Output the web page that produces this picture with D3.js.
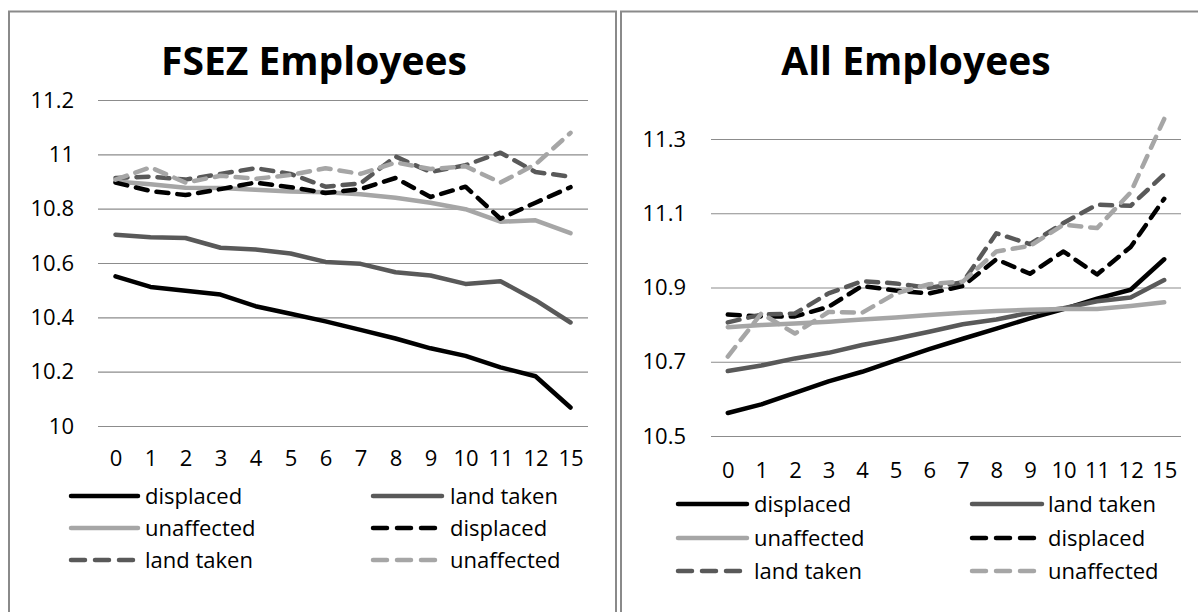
<!DOCTYPE html>
<html>
<head>
<meta charset="utf-8">
<script src="https://cdn.jsdelivr.net/npm/d3@7"></script>
<style>
  body { margin: 0; background: #fff; }
  svg { display: block; font-family: "Open Sans", sans-serif; }
</style>
</head>
<body>
<div id="chart"></div>
<script>
const periods = ["0", "1", "2", "3", "4", "5", "6", "7", "8", "9", "10", "11", "12", "15"];
const seriesNames = ["displaced", "land taken", "unaffected", "displaced", "land taken", "unaffected"];

// FSEZ employees
const fsezDisplaced = [10.551, 10.512, 10.498, 10.484, 10.441, 10.413, 10.385, 10.354, 10.322, 10.286, 10.258, 10.216, 10.183, 10.068];
const fsezLandTaken = [10.704, 10.695, 10.692, 10.656, 10.650, 10.635, 10.604, 10.597, 10.566, 10.554, 10.523, 10.533, 10.463, 10.381];
const fsezUnaffected = [10.900, 10.890, 10.877, 10.876, 10.870, 10.863, 10.860, 10.853, 10.840, 10.822, 10.798, 10.752, 10.757, 10.710];
const fsezDisplacedD = [10.896, 10.865, 10.850, 10.872, 10.896, 10.879, 10.858, 10.872, 10.913, 10.843, 10.881, 10.763, 10.822, 10.879];
const fsezLandTakenD = [10.913, 10.918, 10.907, 10.928, 10.949, 10.928, 10.881, 10.893, 10.992, 10.935, 10.960, 11.006, 10.935, 10.918];
const fsezUnaffectedD = [10.907, 10.952, 10.896, 10.921, 10.910, 10.924, 10.949, 10.928, 10.970, 10.946, 10.956, 10.896, 10.963, 11.079];

// all employees
const allDisplaced = [10.562, 10.585, 10.616, 10.647, 10.673, 10.704, 10.734, 10.762, 10.789, 10.817, 10.842, 10.870, 10.894, 10.976];
const allLandTaken = [10.675, 10.690, 10.709, 10.724, 10.745, 10.762, 10.781, 10.801, 10.814, 10.832, 10.844, 10.863, 10.873, 10.920];
const allUnaffected = [10.793, 10.799, 10.803, 10.808, 10.814, 10.819, 10.826, 10.832, 10.837, 10.840, 10.842, 10.842, 10.850, 10.860];
const allDisplacedD = [10.827, 10.822, 10.822, 10.848, 10.904, 10.892, 10.884, 10.904, 10.976, 10.937, 10.997, 10.935, 11.009, 11.139];
const allLandTakenD = [10.806, 10.827, 10.830, 10.884, 10.917, 10.911, 10.899, 10.914, 11.046, 11.017, 11.074, 11.123, 11.120, 11.205];
const allUnaffectedD = [10.714, 10.830, 10.776, 10.834, 10.832, 10.884, 10.909, 10.916, 10.997, 11.012, 11.069, 11.060, 11.156, 11.354];

const fsezTicks = [10, 10.2, 10.4, 10.6, 10.8, 11, 11.2];
const allTicks = [10.5, 10.7, 10.9, 11.1, 11.3];

const colors = ["#000000", "#595959", "#a6a6a6", "#000000", "#595959", "#a6a6a6"];
const dashed = [false, false, false, true, true, true];
const lineWidth = 4.5;
const dashPattern = "12,9";

const svg = d3.select("#chart")
  .append("svg")
  .attr("width", 1198)
  .attr("height", 612);

function drawPanel(opts) {
  const g = svg.append("g");

  // panel frame
  g.append("rect")
    .attr("x", opts.frame[0])
    .attr("y", 11.5)
    .attr("width", opts.frame[1] - opts.frame[0])
    .attr("height", 640)
    .attr("fill", "none")
    .attr("stroke", "#8a8a8a")
    .attr("stroke-width", 2);

  g.append("text")
    .attr("x", opts.titleX)
    .attr("y", 75)
    .attr("text-anchor", "middle")
    .style("font-size", "39px")
    .style("font-weight", "bold")
    .text(opts.title);

  const x = d3.scalePoint().domain(periods).range(opts.xRange).padding(0.5);
  const y = d3.scaleLinear().domain(opts.yDomain).range(opts.yRange);

  const yAxis = d3.axisLeft(y)
    .tickValues(opts.ticks)
    .tickSize(-(opts.xRange[1] - opts.xRange[0]))
    .tickPadding(opts.xRange[0] - opts.labelRight)
    .tickFormat(d3.format("~g"));
  const yAxisGroup = g.append("g")
    .attr("transform", `translate(${opts.xRange[0]},0)`)
    .call(yAxis);
  yAxisGroup.select(".domain").remove();
  yAxisGroup.selectAll(".tick line").attr("stroke", "#8c8c8c").attr("stroke-width", 1.2);
  yAxisGroup.selectAll(".tick text")
    .style("font-size", "22px")
    .style("font-family", "Open Sans")
    .attr("fill", "#000");

  const xAxis = d3.axisBottom(x).tickSize(0).tickPadding(0);
  const xAxisGroup = g.append("g")
    .attr("transform", `translate(0,${opts.xLabelY})`)
    .call(xAxis);
  xAxisGroup.select(".domain").remove();
  xAxisGroup.selectAll(".tick text")
    .attr("dy", "0.32em")
    .style("font-size", "22px")
    .style("font-family", "Open Sans")
    .attr("fill", "#000");

  const line = d3.line()
    .x((d, i) => x(periods[i]))
    .y((d) => y(d));

  opts.series.forEach((values, i) => {
    g.append("path")
      .datum(values)
      .attr("d", line)
      .attr("fill", "none")
      .attr("stroke", colors[i])
      .attr("stroke-width", lineWidth)
      .attr("stroke-linejoin", "round")
      .attr("stroke-linecap", "round")
      .attr("stroke-dasharray", dashed[i] ? dashPattern : null);
  });

  // legend, two columns
  seriesNames.forEach((name, i) => {
    const col = i % 2;
    const row = Math.floor(i / 2);
    const ly = opts.legendRows[row];
    const lx = opts.legendCols[col];
    const lineEnd = dashed[i] ? lx[0] + 62 : lx[1];
    g.append("line")
      .attr("x1", lx[0])
      .attr("x2", lineEnd)
      .attr("y1", ly)
      .attr("y2", ly)
      .attr("stroke", colors[i])
      .attr("stroke-width", lineWidth)
      .attr("stroke-linecap", "round")
      .attr("stroke-dasharray", dashed[i] ? "14,10" : null);
    g.append("text")
      .attr("x", lx[2])
      .attr("y", ly)
      .attr("dy", "0.35em")
      .style("font-size", "22px")
      .text(name);
  });
}

drawPanel({
  title: "FSEZ Employees",
  titleX: 314,
  frame: [9, 616],
  xRange: [98, 588],
  yDomain: [10, 11.2],
  yRange: [426, 100],
  ticks: fsezTicks,
  labelRight: 74,
  xLabelY: 459,
  series: [fsezDisplaced, fsezLandTaken, fsezUnaffected, fsezDisplacedD, fsezLandTakenD, fsezUnaffectedD],
  legendRows: [496, 528, 560],
  legendCols: [[71, 138, 145], [373, 442, 450]]
});

drawPanel({
  title: "All Employees",
  titleX: 916,
  frame: [621, 1260],
  xRange: [711, 1181],
  yDomain: [10.5, 11.3],
  yRange: [436, 139],
  ticks: allTicks,
  labelRight: 686,
  xLabelY: 471,
  series: [allDisplaced, allLandTaken, allUnaffected, allDisplacedD, allLandTakenD, allUnaffectedD],
  legendRows: [504, 538, 571],
  legendCols: [[678, 747, 754], [972, 1042, 1048]]
});
</script>
</body>
</html>
